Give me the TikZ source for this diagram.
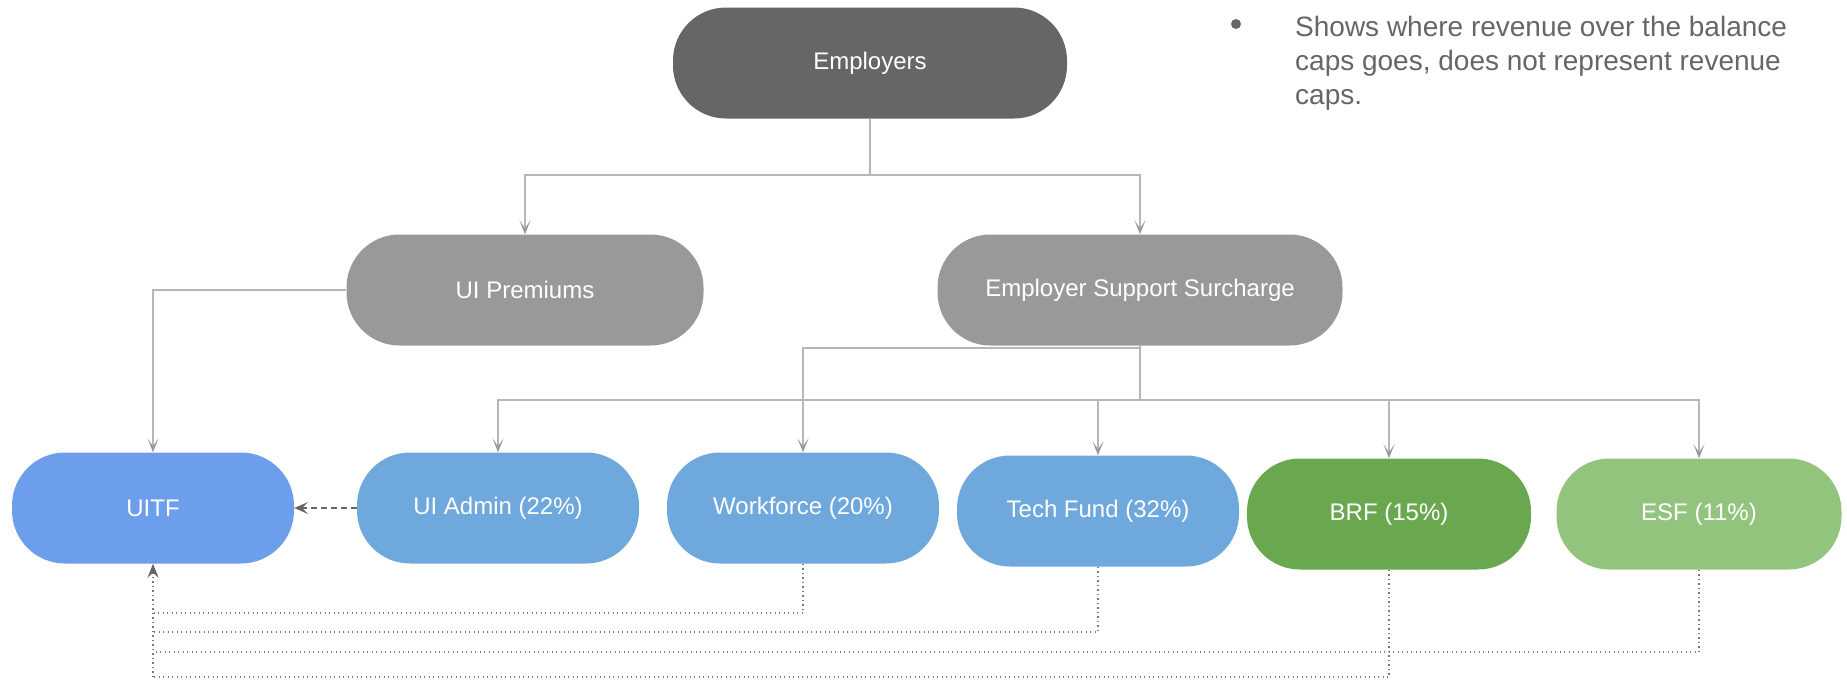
\documentclass[tikz,border=0pt]{standalone}
\usepackage{fontspec}
\setmainfont{Liberation Sans}
\usetikzlibrary{arrows.meta,backgrounds}

\definecolor{darkbox}{HTML}{666666}
\definecolor{greybox}{HTML}{999999}
\definecolor{uitfblue}{HTML}{6D9EEB}
\definecolor{fundblue}{HTML}{6FA8DC}
\definecolor{brfgreen}{HTML}{6AA84F}
\definecolor{esfgreen}{HTML}{93C47D}
\definecolor{flowline}{HTML}{B7B7B7}
\definecolor{backline}{HTML}{7A7A7A}
\definecolor{notetext}{HTML}{666666}

\tikzset{
  pill/.style={rectangle, rounded corners=53pt, text=white, inner sep=0pt,
    minimum height=111pt, font=\fontsize{24}{28}\selectfont},
  flow/.style={draw=flowline, line width=1.6pt,
    -{Stealth[length=14pt,width=11pt,inset=8pt,color=greybox]}},
  payback/.style={draw=backline, line width=1.3pt, dash pattern=on 1.3pt off 3.2pt},
  sendback/.style={draw=darkbox, line width=1.6pt, dash pattern=on 6pt off 4pt,
    -{Stealth[length=14pt,width=12pt,inset=6pt]}}
}

\begin{document}
\begin{tikzpicture}[x=1pt,y=-1pt]
\useasboundingbox (0,0) rectangle (1847,680);

% Sources
\node[pill, fill=darkbox, minimum width=394pt] (employers) at (870,63) {Employers};
\node[pill, fill=greybox, minimum width=357pt] (uiprem) at (525,290) {UI Premiums};
\node[pill, fill=greybox, minimum width=405pt] (ess) at (1140,290) {Employer Support Surcharge};

% Funds
\node[pill, fill=uitfblue, minimum width=282pt] (uitf) at (153,508) {UITF};
\node[pill, fill=fundblue, minimum width=282pt] (admin) at (498,508) {UI Admin (22\%)};
\node[pill, fill=fundblue, minimum width=272pt] (wforce) at (803,508) {Workforce (20\%)};
\node[pill, fill=fundblue, minimum width=282pt] (tech) at (1098,511) {Tech Fund (32\%)};
\node[pill, fill=brfgreen, minimum width=284pt] (brf) at (1389,514) {BRF (15\%)};
\node[pill, fill=esfgreen, minimum width=285pt] (esf) at (1699,514) {ESF (11\%)};

% Note
\node[circle, fill=notetext, inner sep=0pt, minimum size=10pt] (bullet) at (1236,24) {};
\node[anchor=north west, inner sep=0pt, align=left, text=notetext,
  font=\fontsize{28}{34}\selectfont] (capsnote) at (1295,16)
  {Shows where revenue over the balance\\caps goes, does not represent revenue\\caps.};

\begin{scope}[on background layer]
% Employers split
\coordinate (empsplit) at (870,175);
\draw[flow] (employers.south) -- (empsplit) -| (uiprem.north);
\draw[flow] (empsplit) -| (ess.north);
\draw[flow] (uiprem.west) -| (uitf.north);

% Surcharge split
\coordinate (esssplit) at (1140,400);
\draw[flow] ([yshift=-2pt]ess.south) -| (wforce.north);
\draw[flow] (ess.south) -- (esssplit) -| (admin.north);
\draw[flow] (esssplit) -| (tech.north);
\draw[flow] (esssplit) -| (esf.north);
\draw[flow] (esssplit -| brf.north) -- (brf.north);

% Overflow back to UITF
\coordinate (backbus) at (153,677);
\draw[payback] (wforce.south) |- (uitf.south |- 0,613);
\draw[payback] (tech.south) |- (uitf.south |- 0,632);
\draw[payback] (esf.south) |- (uitf.south |- 0,652);
\draw[payback] (brf.south) |- (backbus);
\draw[payback, -{Stealth[length=14pt,width=11pt,inset=5pt,color=darkbox]}] (backbus) -- (uitf.south);
\draw[sendback] (admin.west) -- (uitf.east);
\end{scope}

\end{tikzpicture}
\end{document}
